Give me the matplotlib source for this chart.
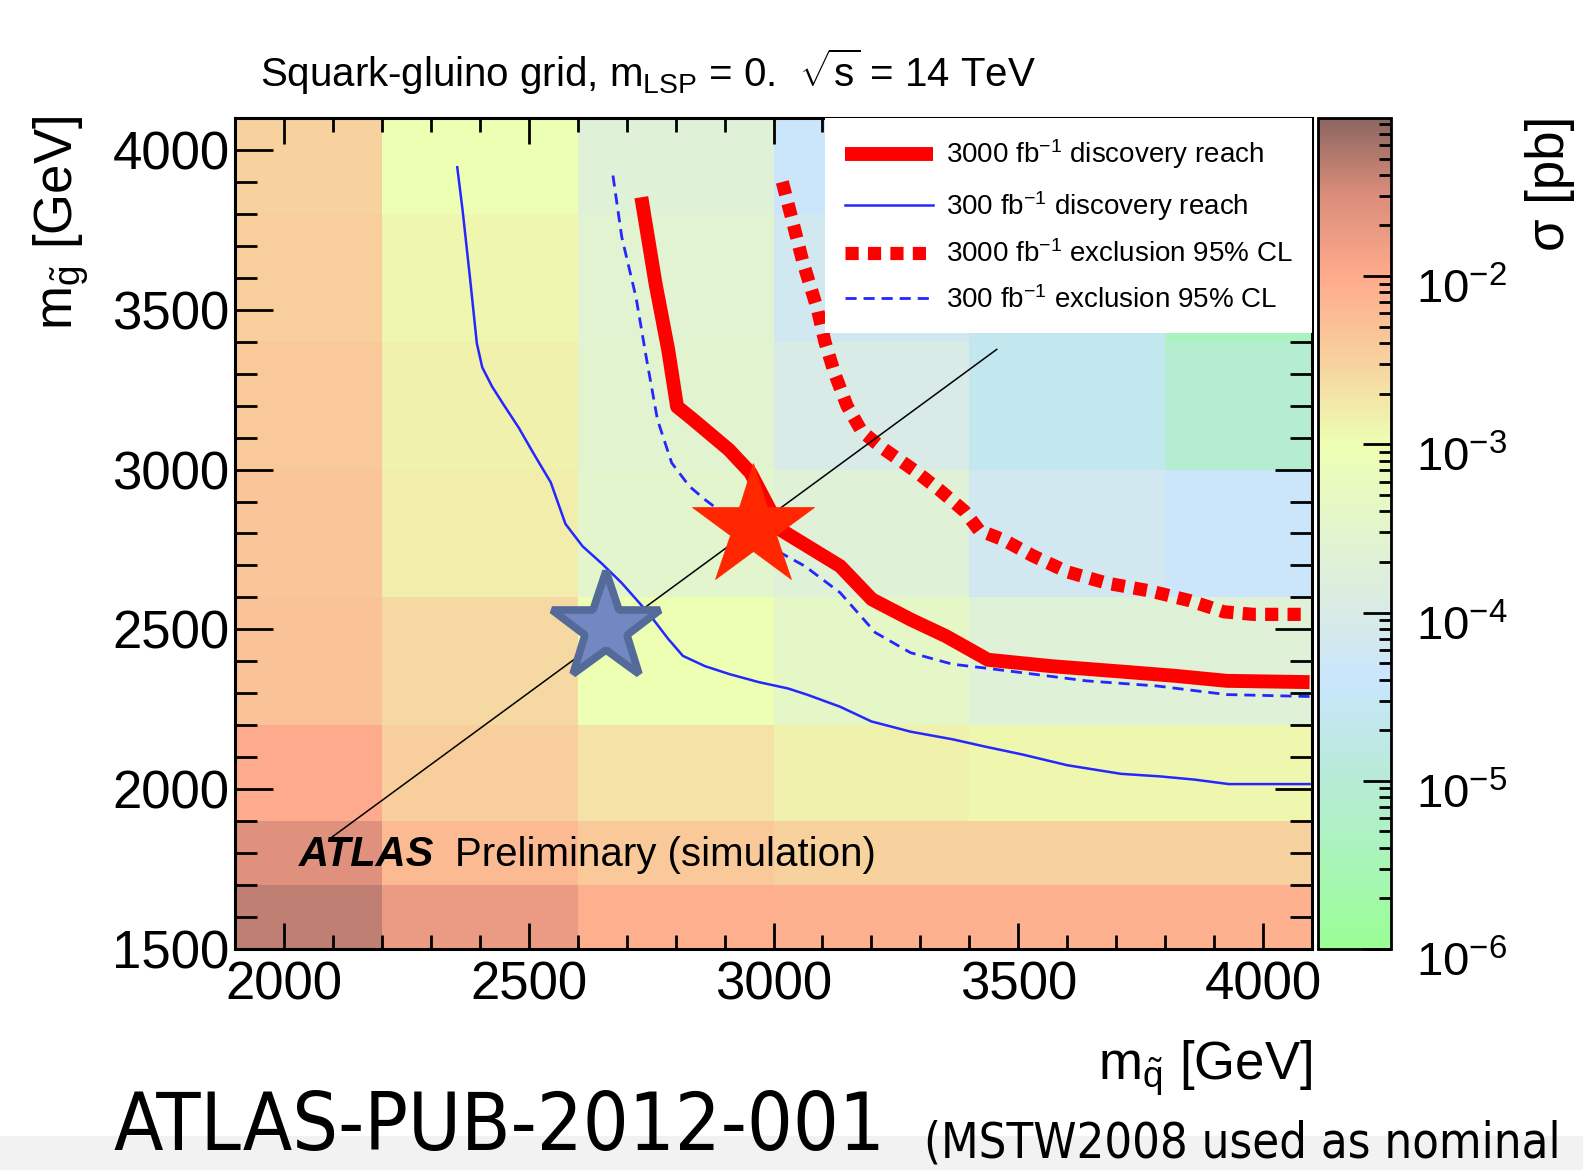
import numpy as np
import matplotlib
matplotlib.use("Agg")
import matplotlib.pyplot as plt
from matplotlib.colors import LinearSegmentedColormap, LogNorm
from matplotlib.ticker import MultipleLocator, LogLocator, NullFormatter
from matplotlib.patches import Rectangle
from matplotlib.transforms import ScaledTranslation

plt.rcParams['font.family'] = ['Liberation Sans', 'DejaVu Sans']
plt.rcParams['mathtext.fontset'] = 'custom'
plt.rcParams['mathtext.rm'] = 'Liberation Sans'
plt.rcParams['mathtext.it'] = 'Liberation Sans:italic'
plt.rcParams['mathtext.bf'] = 'Liberation Sans:bold'

# cross-section grid, log10(sigma / pb); rows = gluino bins (bottom -> top)
msq_edges = [1900, 2200, 2600, 3000, 3400, 3800, 4100]
mgl_edges = [1500, 1700, 1900, 2200, 2600, 3000, 3400, 3800, 4100]
log_sigma = [
    [-1.35, -1.75, -2.05, -2.10, -2.10, -2.10],
    [-1.60, -2.20, -2.40, -2.50, -2.50, -2.50],
    [-2.00, -2.45, -2.70, -2.85, -2.90, -2.90],
    [-2.30, -2.60, -3.00, -3.40, -3.70, -3.70],
    [-2.35, -2.80, -3.50, -3.70, -4.20, -4.35],
    [-2.40, -2.85, -3.55, -4.00, -4.60, -5.10],
    [-2.45, -2.90, -3.60, -4.20, -4.60, -5.40],
    [-2.50, -3.00, -3.70, -4.35, -4.40, -5.20],
]

# 300 fb-1 discovery reach
disc300_x = [2354, 2365, 2380, 2394, 2405, 2425, 2450, 2480, 2510, 2545, 2575, 2610, 2650,
             2690, 2745, 2785, 2815, 2860, 2910, 2970, 3030, 3070, 3136, 3200, 3280, 3366,
             3430, 3510, 3600, 3710, 3790, 3860, 3930, 4095]
disc300_y = [3946, 3810, 3600, 3395, 3320, 3260, 3200, 3130, 3050, 2960, 2830, 2760, 2705,
             2645, 2550, 2470, 2417, 2385, 2360, 2335, 2315, 2295, 2258, 2212, 2180, 2156,
             2134, 2108, 2075, 2048, 2040, 2030, 2016, 2016]
# 300 fb-1 exclusion
excl300_x = [2672, 2690, 2719, 2741, 2763, 2792, 2828, 2860, 2900, 2950, 3014, 3064, 3136,
             3208, 3280, 3366, 3438, 3531, 3639, 3783, 3926, 4095]
excl300_y = [3920, 3728, 3540, 3343, 3156, 3021, 2948, 2906, 2860, 2800, 2740, 2698, 2615,
             2490, 2427, 2391, 2378, 2360, 2339, 2323, 2296, 2290]
# 3000 fb-1 discovery reach
disc3000_x = [2730, 2759, 2785, 2803, 2836, 2909, 2953, 3014, 3136, 3201, 3280, 3352, 3438,
              3567, 3711, 3818, 3926, 4095]
disc3000_y = [3852, 3582, 3374, 3197, 3156, 3062, 2990, 2812, 2698, 2594, 2531, 2479, 2405,
              2385, 2368, 2355, 2339, 2335]
# 3000 fb-1 exclusion
excl3000_x = [3018, 3035, 3060, 3090, 3105, 3125, 3150, 3180, 3220, 3290, 3340, 3390, 3420,
              3470, 3530, 3600, 3680, 3770, 3850, 3920, 3980, 4095]
excl3000_y = [3900, 3800, 3650, 3500, 3400, 3300, 3200, 3120, 3070, 2995, 2935, 2870, 2810,
              2780, 2730, 2680, 2645, 2620, 2590, 2555, 2547, 2547]

stars_x = [2658, 2958]
stars_y = [2505, 2820]
diag_x = [2098, 3456]
diag_y = [1850, 3376]

cb_anchor = [-6.0, -5.5, -5.0, -4.4, -4.0, -3.5, -3.0, -2.5, -2.0, -1.5, -1.06]
cb_colors = [(0.60, 1.00, 0.58), (0.66, 0.96, 0.72), (0.72, 0.92, 0.84), (0.79, 0.90, 0.99),
             (0.85, 0.92, 0.90), (0.89, 0.96, 0.80), (0.93, 1.00, 0.70), (0.97, 0.82, 0.62),
             (1.00, 0.67, 0.55), (0.85, 0.55, 0.48), (0.55, 0.40, 0.38)]

lo, hi = cb_anchor[0], cb_anchor[-1]
cmap = LinearSegmentedColormap.from_list(
    'xs', [((a - lo) / (hi - lo), c) for a, c in zip(cb_anchor, cb_colors)])
norm = LogNorm(vmin=10 ** lo, vmax=10 ** hi)

W, H = 1583, 1170
fig = plt.figure(figsize=(W / 100, H / 100), dpi=100)
ax = fig.add_axes([235 / W, 1 - 949 / H, (1312 - 235) / W, (949 - 118) / H])
cax = fig.add_axes([1318 / W, 1 - 949 / H, 73 / W, (949 - 118) / H])

mesh = ax.pcolormesh(msq_edges, mgl_edges, 10 ** np.array(log_sigma), cmap=cmap, norm=norm)

ax.plot(excl300_x, excl300_y, color=(0.15, 0.15, 1.0), lw=2, dashes=(4, 2.5),
        label='300 fb$^{-1}$ exclusion 95% CL', zorder=3)
ax.plot(disc300_x, disc300_y, color=(0.15, 0.15, 1.0), lw=1.8,
        label='300 fb$^{-1}$ discovery reach', zorder=3)
ax.plot(excl3000_x, excl3000_y, color='red', lw=9.5, dashes=(1.0, 0.7), dash_capstyle='butt',
        label='3000 fb$^{-1}$ exclusion 95% CL', zorder=3)
ax.plot(disc3000_x, disc3000_y, color='red', lw=10, solid_capstyle='butt',
        label='3000 fb$^{-1}$ discovery reach', zorder=4)

ax.plot(diag_x, diag_y, color='black', lw=1.1, zorder=5)
ax.plot(stars_x[0], stars_y[0], marker='*', ms=82, mfc=(0.45, 0.53, 0.76),
        mec=(0.33, 0.42, 0.6), mew=5.5, zorder=6)
ax.plot(stars_x[1], stars_y[1], marker='*', ms=92, mfc=(1.0, 0.15, 0.0),
        mec=(1.0, 0.15, 0.0), mew=0.5, zorder=6)

h, l = ax.get_legend_handles_labels()
order = [3, 1, 2, 0]
leg = ax.legend([h[i] for i in order], [l[i] for i in order], loc='upper right',
                bbox_to_anchor=(1, 1), borderaxespad=0, fontsize=20, handlelength=3.2,
                handletextpad=0.45, labelspacing=0.64, borderpad=0.7, frameon=True,
                fancybox=False, framealpha=1, facecolor='white', edgecolor='none')
leg.set_zorder(7)

ax.text(2031, 1793, 'ATLAS', fontsize=30, fontweight='bold', style='italic', va='center', zorder=7)
ax.text(2350, 1793, 'Preliminary (simulation)', fontsize=29, va='center', zorder=7)

ax.set_xlim(1900, 4100)
ax.set_ylim(1500, 4100)
ax.xaxis.set_major_locator(MultipleLocator(500))
ax.xaxis.set_minor_locator(MultipleLocator(100))
ax.yaxis.set_major_locator(MultipleLocator(500))
ax.yaxis.set_minor_locator(MultipleLocator(100))
ax.tick_params(axis='both', which='both', direction='in', top=True, right=True, width=2,
               labelsize=38, color='black')
ax.tick_params(axis='x', which='major', length=19, pad=8)
ax.tick_params(axis='x', which='minor', length=10)
ax.tick_params(axis='y', which='major', length=27, pad=4)
ax.tick_params(axis='y', which='minor', length=16)
for s in ax.spines.values():
    s.set_linewidth(2.2)

cb = fig.colorbar(mesh, cax=cax)
cb.outline.set_linewidth(2)
cax.yaxis.set_major_locator(LogLocator(base=10))
cax.yaxis.set_minor_locator(LogLocator(base=10, subs=np.arange(2, 10)))
cax.yaxis.set_minor_formatter(NullFormatter())
cax.tick_params(which='both', direction='in', right=True, left=False, width=2, labelsize=34,
                pad=18)
cax.tick_params(which='major', length=20)
cax.tick_params(which='minor', length=9)
shift = ScaledTranslation(0, -10 / 100, fig.dpi_scale_trans)
for lab in cax.get_yticklabels():
    lab.set_transform(lab.get_transform() + shift)

fig.text(260 / W, 1 - 87 / H, r'Squark-gluino grid, m$_{\rm LSP}$ = 0.  $\sqrt{\rm s}$ = 14 TeV',
         fontsize=29, va='baseline', ha='left')
fig.text(61 / W, 1 - 116 / H, r'm$_{\tilde{\rm g}}$ [GeV]', rotation=90, fontsize=38,
         ha='center', va='top')
fig.text(1312 / W, 1 - 1068 / H, r'm$_{\tilde{\rm q}}$ [GeV]', fontsize=38, ha='right',
         va='center')
fig.text(1550 / W, 1 - 116 / H, 'σ [pb]', rotation=90, fontsize=38, ha='center',
         va='top')

fig.patches.append(Rectangle((0, 0), 1, 34 / H, transform=fig.transFigure,
                             facecolor=(0.95, 0.95, 0.95), edgecolor='none', zorder=0))
fig.text(113 / W, 1 - 1150 / H, 'ATLAS-PUB-2012-001', fontsize=58, family='DejaVu Sans',
         fontstretch='condensed', va='baseline', ha='left')
fig.text(924 / W, 1 - 1157 / H, '(MSTW2008 used as nominal', fontsize=35,
         family='DejaVu Sans', fontstretch='condensed', va='baseline', ha='left')

fig.savefig('out.png', dpi=100)
